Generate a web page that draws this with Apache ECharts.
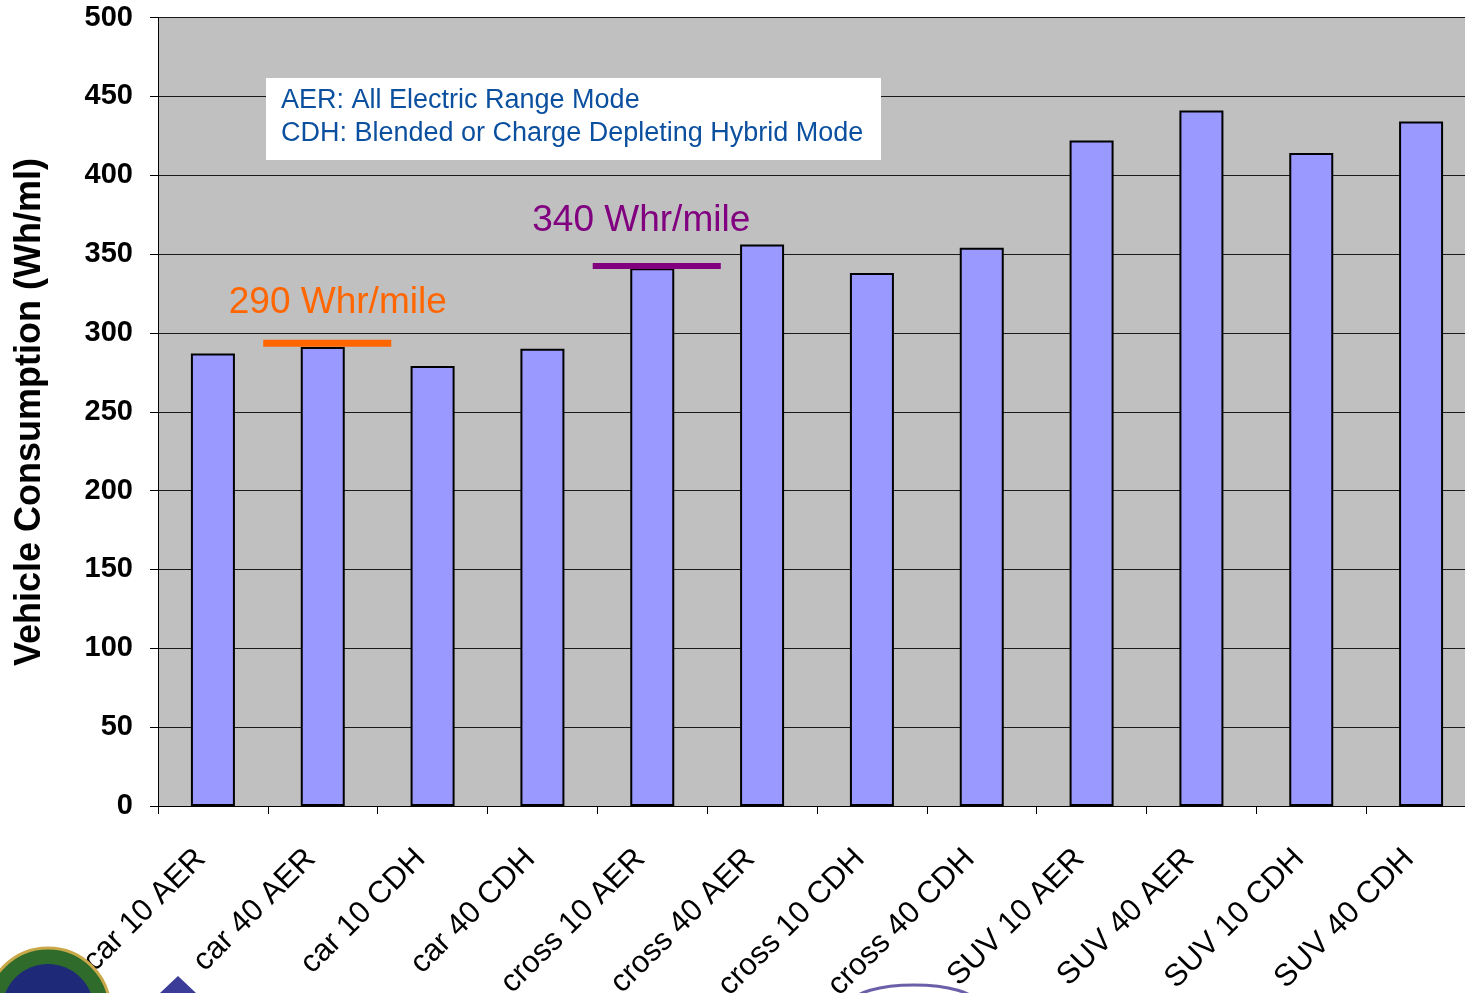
<!DOCTYPE html>
<html>
<head>
<meta charset="utf-8">
<script src="https://cdn.jsdelivr.net/npm/echarts@6/dist/echarts.min.js"></script>
<style>
html,body{margin:0;padding:0;background:#fff;}
#chart{width:1465px;height:993px;}
</style>
</head>
<body>
<div id="chart"></div>
<script>
// ---- data ----
const categories = ['car 10 AER','car 40 AER','car 10 CDH','car 40 CDH','cross 10 AER','cross 40 AER','cross 10 CDH','cross 40 CDH','SUV 10 AER','SUV 40 AER','SUV 10 CDH','SUV 40 CDH'];
const consumption = [287, 291, 279, 290, 341, 356, 338, 354, 422, 441, 414, 434];
const targetCategories = ['car 40 AER','cross 10 AER'];
const targetValues = [293.4, 342.4];
const targetLabels = ['290 Whr/mile','340 Whr/mile'];
const yTicks = {min: 0, max: 500, interval: 50};
const legendLines = ['AER: All Electric Range Mode','CDH: Blended or Charge Depleting Hybrid Mode'];
const yTitle = 'Vehicle Consumption (Wh/ml)';

// ---- styles ----
const targetColors = ['#ff6600', '#800080'];
const targetWidths = [7, 6];
const targetLabelDx = [15, -11];
const targetLabelDy = [-41, -45];
const FONT = "'Liberation Sans', Arial, sans-serif";

const chart = echarts.init(document.getElementById('chart'));
chart.setOption({
  animation: false,
  backgroundColor: '#ffffff',
  grid: {left: 158, top: 17.5, width: 1318, height: 788.5, backgroundColor: '#c0c0c0', show: true, borderWidth: 0,
         containLabel: false, outerBoundsMode: 'none'},
  xAxis: {
    type: 'category',
    data: categories,
    boundaryGap: true,
    axisLine: {show: true, lineStyle: {color: '#000', width: 1}},
    axisTick: {show: true, length: 8, lineStyle: {color: '#000'}},
    axisLabel: {rotate: 45, margin: 36, padding: [0, 17, 0, 0], color: '#000', fontSize: 31, fontFamily: FONT, interval: 0}
  },
  yAxis: {
    type: 'value',
    min: yTicks.min, max: yTicks.max, interval: yTicks.interval,
    axisLine: {show: true, lineStyle: {color: '#000', width: 1}},
    axisTick: {show: true, length: 8, inside: false, lineStyle: {color: '#000'}},
    axisLabel: {margin: 25, color: '#000', fontSize: 29, fontWeight: 'bold', fontFamily: FONT},
    splitLine: {show: true, lineStyle: {color: '#1a1a1a', width: 1}}
  },
  series: [
    {
      type: 'bar',
      data: consumption,
      barWidth: 44,
      itemStyle: {color: '#9999ff', borderColor: '#000', borderWidth: 2},
      z: 2
    },
    {
      type: 'custom',
      data: targetCategories.map((c, i) => [c, targetValues[i], i]),
      clip: false,
      z: 5,
      renderItem: function (params, api) {
        const i = api.value(2);
        const p = api.coord([api.value(0), api.value(1)]);
        const w = api.size([1, 0])[0] * 1.166;
        const cx = p[0] + 4.5;
        return {
          type: 'group',
          children: [
            {type: 'line', shape: {x1: cx - w / 2, y1: p[1], x2: cx + w / 2, y2: p[1]},
             style: {stroke: targetColors[i], lineWidth: targetWidths[i]}},
            {type: 'text', style: {text: targetLabels[i], x: p[0] + targetLabelDx[i], y: p[1] + targetLabelDy[i],
             fill: targetColors[i], fontSize: 37, fontFamily: FONT, align: 'center', verticalAlign: 'middle'}}
          ]
        };
      }
    }
  ],
  graphic: [
    {type: 'rect', left: 266, top: 78, shape: {width: 615, height: 82}, style: {fill: '#ffffff'}, z: 10},
    {type: 'text', left: 281, top: 87, style: {text: legendLines[0], fill: '#0b4f9f', fontSize: 27, fontFamily: FONT}, z: 11},
    {type: 'text', left: 281, top: 120, style: {text: legendLines[1], fill: '#0b4f9f', fontSize: 27, fontFamily: FONT}, z: 11},
    {type: 'text', x: 30, y: 412, rotation: Math.PI / 2,
     style: {text: yTitle, fill: '#000', fontSize: 36, fontWeight: 'bold', fontFamily: FONT, align: 'center', verticalAlign: 'middle'}, z: 11},
    // decorative logos at the bottom
    {type: 'circle', shape: {cx: 48, cy: 1010, r: 62}, style: {fill: '#2f6b2a', stroke: '#c9a84a', lineWidth: 3}, z: 1},
    {type: 'circle', shape: {cx: 48, cy: 1010, r: 46}, style: {fill: '#1e2a78'}, z: 1},
    {type: 'polygon', shape: {points: [[178, 976], [160, 993], [196, 993]]}, style: {fill: '#3b3b98'}, z: 1},
    {type: 'ellipse', shape: {cx: 914, cy: 1003, rx: 62, ry: 18}, style: {fill: 'none', stroke: '#6a5fa8', lineWidth: 3}, z: 1}
  ]
});
</script>
</body>
</html>
